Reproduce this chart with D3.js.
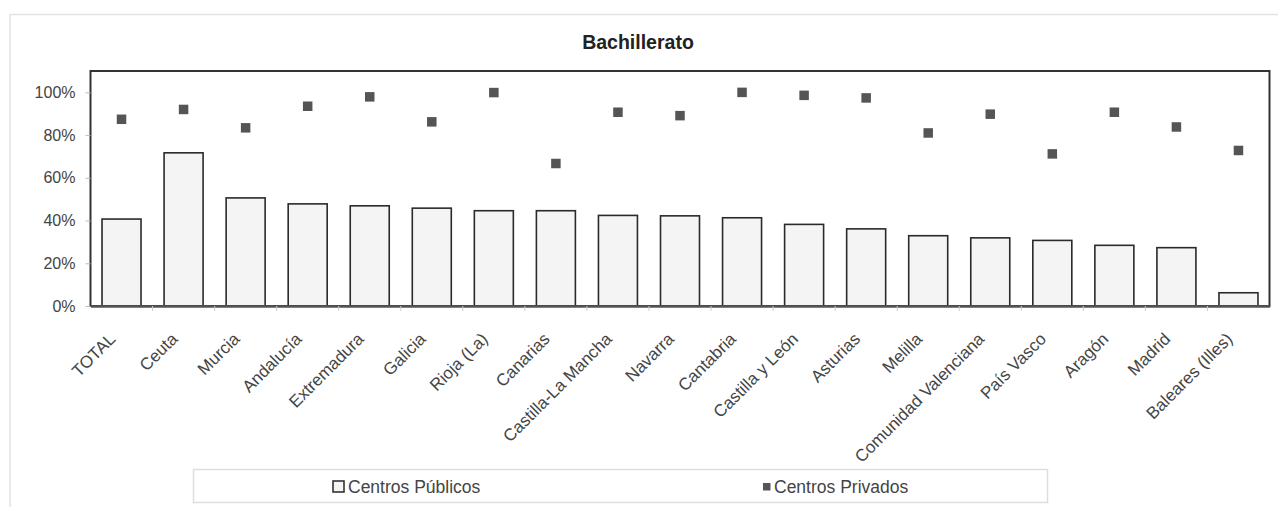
<!DOCTYPE html>
<html>
<head>
<meta charset="utf-8">
<script src="https://cdn.jsdelivr.net/npm/d3@7"></script>
<style>
  html, body { margin: 0; padding: 0; background: #ffffff; }
  svg { display: block; }
  text { font-family: "Liberation Sans", Arial, sans-serif; fill: #333; }
</style>
</head>
<body>
<svg id="chart" width="1278" height="507"></svg>
<script>
const categories = ["TOTAL", "Ceuta", "Murcia", "Andalucía", "Extremadura", "Galicia", "Rioja (La)", "Canarias", "Castilla-La Mancha", "Navarra", "Cantabria", "Castilla y León", "Asturias", "Melilla", "Comunidad Valenciana", "País Vasco", "Aragón", "Madrid", "Baleares (Illes)"];
const publicos = [0.407, 0.717, 0.506, 0.478, 0.469, 0.458, 0.446, 0.446, 0.424, 0.422, 0.413, 0.382, 0.361, 0.329, 0.319, 0.307, 0.284, 0.273, 0.062];
const privados = [0.874, 0.920, 0.834, 0.935, 0.979, 0.862, 0.999, 0.667, 0.907, 0.891, 1.000, 0.986, 0.974, 0.810, 0.898, 0.712, 0.907, 0.838, 0.728];
const yTicks = [0, 0.2, 0.4, 0.6, 0.8, 1.0];
const title = "Bachillerato";
const seriesNames = ["Centros Públicos", "Centros Privados"];

const svg = d3.select("#chart");
const W = 1278, H = 507;
const plot = { left: 90.5, right: 1269.5, top: 71, bottom: 306 };

// outer frame
svg.append("rect").attr("x", 10).attr("y", 14.5).attr("width", W + 10).attr("height", H)
  .attr("fill", "none").attr("stroke", "#e2e2e2").attr("stroke-width", 1.5);

svg.append("text").attr("x", 638).attr("y", 49).attr("text-anchor", "middle")
  .style("font-size", "19.5px").style("font-weight", "bold").style("fill", "#222").text(title);

const xb = d3.scaleBand().domain(categories).range([plot.left, plot.right]);
const y = d3.scaleLinear().domain([0, 1.1]).range([plot.bottom, plot.top]);

// bars
svg.append("g").selectAll("rect").data(categories).join("rect")
  .attr("x", d => xb(d) + xb.bandwidth() / 2 - 19.5)
  .attr("width", 39)
  .attr("y", (d, i) => y(publicos[i]))
  .attr("height", (d, i) => y(0) - y(publicos[i]))
  .attr("fill", "#f4f4f4").attr("stroke", "#2a2a2a").attr("stroke-width", 1.6);

// markers
const ms = 9.5;
svg.append("g").selectAll("rect").data(categories).join("rect")
  .attr("x", d => xb(d) + xb.bandwidth() / 2 - ms / 2)
  .attr("y", (d, i) => y(privados[i]) - ms / 2)
  .attr("width", ms).attr("height", ms)
  .attr("fill", "#555");

// plot frame
svg.append("rect").attr("x", plot.left).attr("y", plot.top)
  .attr("width", plot.right - plot.left).attr("height", plot.bottom - plot.top)
  .attr("fill", "none").attr("stroke", "#333").attr("stroke-width", 2);

// y axis
const yAxis = d3.axisLeft(y).tickValues(yTicks).tickFormat(d3.format(".0%")).tickSize(5).tickPadding(10);
const gy = svg.append("g").attr("transform", `translate(${plot.left},0)`).call(yAxis);
gy.select(".domain").remove();
gy.selectAll(".tick line").attr("stroke", "#bbb");
gy.selectAll(".tick text").style("font-size", "16px").style("fill", "#444")
  .style("font-family", '"Liberation Sans", Arial, sans-serif');

// x axis
const xAxis = d3.axisBottom(xb).tickSize(0).tickPadding(0);
const gx = svg.append("g").attr("transform", `translate(0,${plot.bottom})`).call(xAxis);
gx.select(".domain").attr("stroke", "#555").attr("stroke-width", 2.5);
gx.selectAll(".tick text")
  .attr("text-anchor", "end")
  .attr("y", 0).attr("dy", 0)
  .attr("transform", "translate(-5,34) rotate(-45)")
  .style("font-size", "17px").style("fill", "#444")
  .style("font-family", '"Liberation Sans", Arial, sans-serif');
// boundary ticks
svg.append("g").selectAll("line").data(categories.slice(1)).join("line")
  .attr("x1", d => xb(d)).attr("x2", d => xb(d))
  .attr("y1", plot.bottom).attr("y2", plot.bottom + 5)
  .attr("stroke", "#ccc").attr("stroke-width", 1);

// legend
const lg = svg.append("g");
lg.append("rect").attr("x", 193.5).attr("y", 469.5).attr("width", 854).attr("height", 33)
  .attr("fill", "#fff").attr("stroke", "#dedede").attr("stroke-width", 1.5);
lg.append("rect").attr("x", 333).attr("y", 481).attr("width", 11).attr("height", 11)
  .attr("fill", "#f4f4f4").attr("stroke", "#333").attr("stroke-width", 1.6);
lg.append("text").attr("x", 348).attr("y", 492.5).style("font-size", "17.5px").style("fill", "#444").text(seriesNames[0]);
lg.append("rect").attr("x", 763).attr("y", 483).attr("width", 7.5).attr("height", 7.5).attr("fill", "#555");
lg.append("text").attr("x", 774).attr("y", 492.5).style("font-size", "17.5px").style("fill", "#444").text(seriesNames[1]);
</script>
</body>
</html>
